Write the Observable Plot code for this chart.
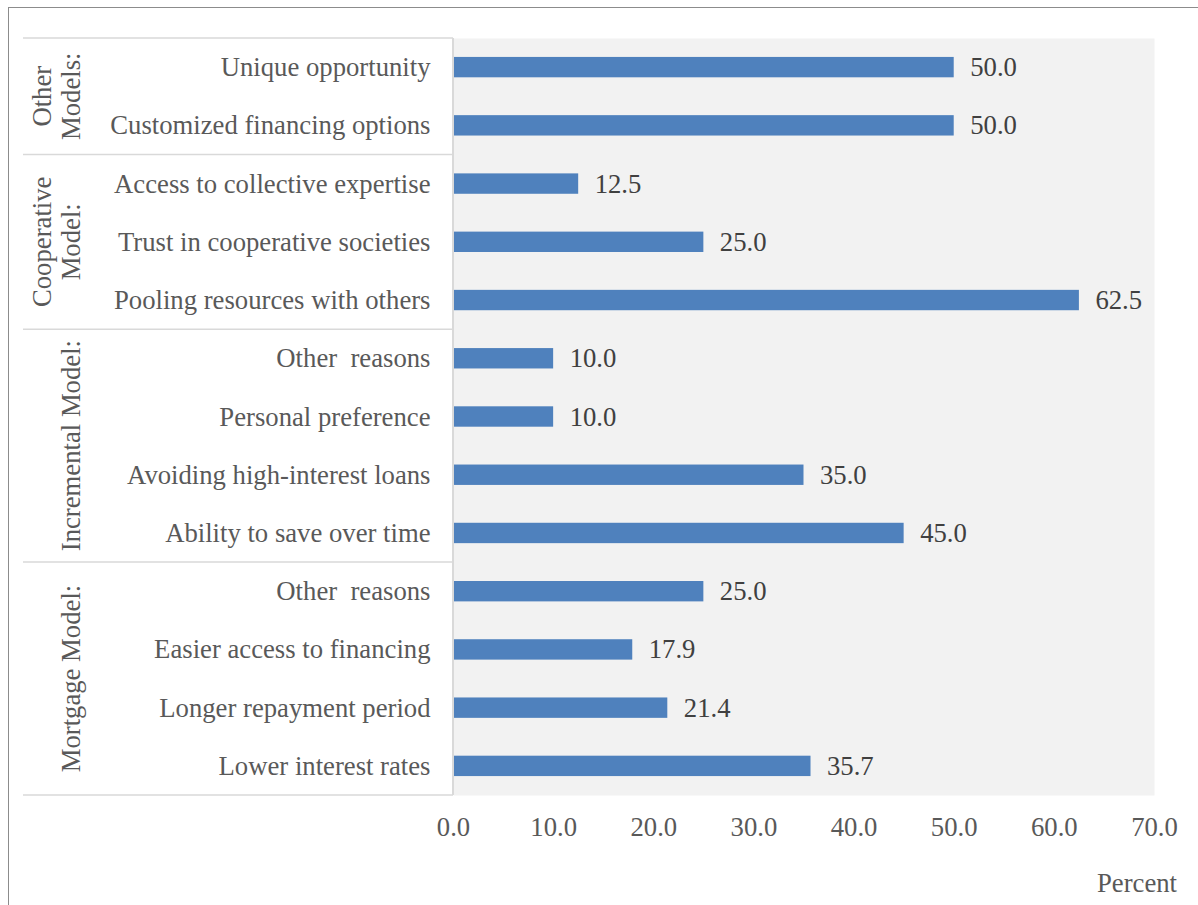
<!DOCTYPE html>
<html><head><meta charset="utf-8">
<script src="https://cdn.jsdelivr.net/npm/d3@7"></script>
<script src="https://cdn.jsdelivr.net/npm/@observablehq/plot@0.6"></script>
<style>
html,body{margin:0;padding:0;background:#fff;overflow:hidden;width:1198px;height:905px}
#frame{position:absolute;left:8px;top:7px;width:1400px;height:1200px;border:1.5px solid #8c8c8c;box-sizing:border-box}
#chart{position:absolute;left:0;top:0}
svg text{white-space:pre}
</style></head><body><div id="frame"></div><div id="chart"></div>
<script>
const groups = ["Other Models:", "Other Models:",
  "Cooperative Model:", "Cooperative Model:", "Cooperative Model:",
  "Incremental Model:", "Incremental Model:", "Incremental Model:", "Incremental Model:",
  "Mortgage Model:", "Mortgage Model:", "Mortgage Model:", "Mortgage Model:"];
const categories = ["Unique opportunity", "Customized financing options",
  "Access to collective expertise", "Trust in cooperative societies", "Pooling resources with others",
  "Other  reasons", "Personal preference", "Avoiding high-interest loans", "Ability to save over time",
  "Other  reasons", "Easier access to financing", "Longer repayment period", "Lower interest rates"];
const values = [50.0, 50.0, 12.5, 25.0, 62.5, 10.0, 10.0, 35.0, 45.0, 25.0, 17.9, 21.4, 35.7];
const groupLabelLines = {
  "Other Models:": ["Other", "Models:"],
  "Cooperative Model:": ["Cooperative", "Model:"],
  "Incremental Model:": ["Incremental Model:"],
  "Mortgage Model:": ["Mortgage Model:"]
};
const xTicks = [0, 10, 20, 30, 40, 50, 60, 70];
const axisTitle = "Percent";

const FS = 26.7;
const data = categories.map((c, i) => ({key: groups[i] + "|" + c, label: c, group: groups[i], value: values[i]}));

function decor(index, scales, vals, dims) {
  const y = scales.y;
  const step = y.step(), bw = y.bandwidth();
  const half = (step - bw) / 2;
  const g = d3.create("svg:g");
  const left = 23, right = dims.marginLeft;
  const top = dims.marginTop, bottom = dims.height - dims.marginBottom;
  const gnames = [...new Set(groups)];
  const lineColor = "#d9d9d9";
  gnames.forEach((name, gi) => {
    const rows = data.filter(d => d.group === name);
    const y0 = y(rows[0].key) - half;
    const y1 = y(rows[rows.length - 1].key) + bw + half;
    g.append("line").attr("x1", left).attr("x2", right).attr("y1", y0).attr("y2", y0)
      .attr("stroke", lineColor).attr("stroke-width", 1.5);
    if (gi === gnames.length - 1)
      g.append("line").attr("x1", left).attr("x2", right).attr("y1", y1).attr("y2", y1)
        .attr("stroke", lineColor).attr("stroke-width", 1.5);
    const cy = (y0 + y1) / 2;
    const lines = groupLabelLines[name];
    const xs = lines.length === 2 ? [42, 71] : [71];
    lines.forEach((ln, li) => {
      g.append("text")
        .attr("transform", `translate(${xs[li]},${cy}) rotate(-90)`)
        .attr("text-anchor", "middle").attr("dy", "0.35em")
        .attr("fill", "#595959").attr("font-size", FS)
        .text(ln);
    });
  });
  g.append("line").attr("x1", right).attr("x2", right).attr("y1", top).attr("y2", bottom)
    .attr("stroke", lineColor).attr("stroke-width", 2);
  g.append("text").attr("x", dims.width - dims.marginRight + 23).attr("y", bottom + 97)
    .attr("text-anchor", "end").attr("fill", "#595959").attr("font-size", FS).text(axisTitle);
  return g.node();
}

const plot = Plot.plot({
  width: 1198, height: 905,
  marginLeft: 453, marginRight: 44, marginTop: 38, marginBottom: 110,
  style: {fontFamily: "'Liberation Serif','Times New Roman',serif", fontSize: FS + "px", color: "#595959", background: "transparent", overflow: "visible"},
  x: {domain: [0, 70], ticks: xTicks, tickFormat: d3.format(".1f"), tickSize: 0, tickPadding: 22, label: null},
  y: {domain: data.map(d => d.key), paddingInner: 0.65, paddingOuter: 0.325, round: false, tickSize: 0, tickPadding: 23,
      tickFormat: k => k.split("|")[1], label: null},
  marks: [
    Plot.frame({fill: "#f2f2f2", stroke: "none"}),
    Plot.barX(data, {x: "value", y: "key", fill: "#4f81bd"}),
    Plot.text(data, {x: "value", y: "key", text: d => d.value.toFixed(1), dx: 16, textAnchor: "start", fill: "#404040", fontSize: FS}),
    decor
  ]
});
document.getElementById("chart").appendChild(plot);
</script>
</body></html>
